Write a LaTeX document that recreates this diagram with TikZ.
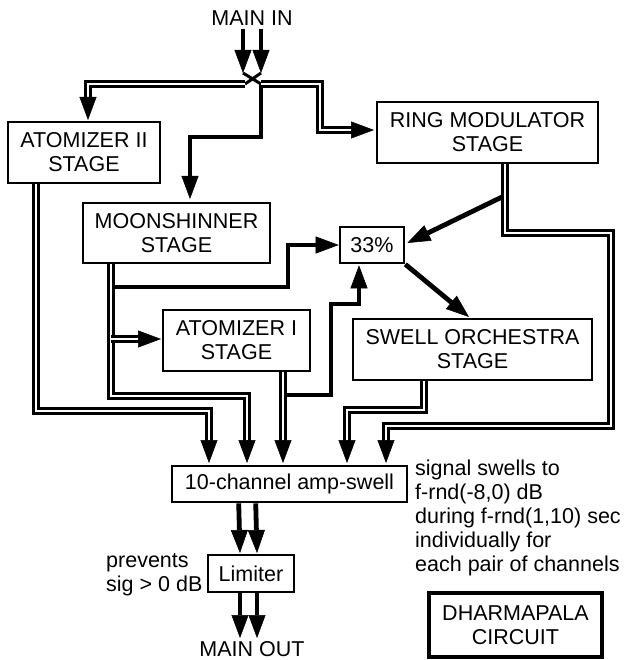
\documentclass[tikz,border=0pt]{standalone}
\usepackage{fontspec}
\setmainfont{Liberation Sans}
\usetikzlibrary{arrows.meta,calc}
\begin{document}
\begin{tikzpicture}[x=1pt,y=-1pt,
  font=\fontsize{21.5}{24}\selectfont,
  box/.style={draw,line width=2.6pt,inner sep=0pt,align=center},
  dbl/.style={line width=3pt,double=white,double distance=2pt,line join=miter},
  thk/.style={line width=4.8pt,line join=miter},
  arrowhd/.style={-{Triangle[length=23pt,width=17pt,line width=0.5pt]}},
  thkarr/.style={thk,arrowhd},
  headonly/.style={line width=0.5pt,arrowhd},
  cross/.style={line width=3pt}]
\useasboundingbox (0,0) rectangle (629,660);

% nodes
\node (mainin) at (252,18) {MAIN IN};
\node[box,minimum width=152pt,minimum height=61pt] (a2) at (84,152.5) {ATOMIZER II\\STAGE};
\node[box,minimum width=221pt,minimum height=61pt] (ring) at (487.5,132.5) {RING MODULATOR\\STAGE};
\node[box,minimum width=187pt,minimum height=60pt] (moon) at (176.5,233) {MOONSHINNER\\STAGE};
\node[box,minimum width=64pt,minimum height=36pt] (pct) at (372,245) {33\%};
\node[box,minimum width=147pt,minimum height=61pt] (a1) at (236.5,340.5) {ATOMIZER I\\STAGE};
\node[box,minimum width=239pt,minimum height=61pt] (swell) at (472.5,349.5) {SWELL ORCHESTRA\\STAGE};
\node[box,minimum width=235pt,minimum height=36pt] (amp) at (289.5,484) {10-channel amp-swell};
\node[box,minimum width=86pt,minimum height=37pt] (lim) at (251,573.5) {Limiter};
\node[box,line width=4pt,minimum width=173pt,minimum height=64pt] (dh) at (515.5,625) {DHARMAPALA\\CIRCUIT};
\node[inner sep=0pt] (mainout) at (252,649) {MAIN OUT};
\node[anchor=west,align=left,inner sep=0pt] (note) at (415,517.5) {signal swells to\\f-rnd(-8,0) dB\\during f-rnd(1,10) sec\\individually for\\each pair of channels};
\node[anchor=west,align=left,inner sep=0pt] (prev) at (106,575) {prevents\\sig > 0 dB};

% coordinates
\coordinate (xL) at (243,73);
\coordinate (xR) at (261,73);
\coordinate (cl) at (245,84);
\coordinate (cr) at (261,84);
\coordinate (t1) at (88,120);
\coordinate (t2) at (374,130);
\coordinate (tm) at (161,339);
\coordinate (ia) at (209,463);
\coordinate (ib) at (247,463);
\coordinate (ic) at (283,463);
\coordinate (id) at (347,463);
\coordinate (ie) at (386,463);

% main in
\draw[thkarr] (xL |- mainin.south) -- (xL);
\draw[thkarr] (xR |- mainin.south) -- (xR);
\draw[cross] (xL) -- (cr);
\draw[cross] (xR) -- (cl);

% single thick connectors
\draw[thkarr] (cr) -- (261,137) -| (190,199);
\draw[thkarr] (115,287) -- (288,287) |- (pct.west);
\draw[thkarr] (285,395) -- (331,395) -- (331,304) -- (359,304) -- ($(pct.south)+(-13,1)$);
\draw[thkarr] (502,197) -- ($(pct.east)+(2,-2)$);
\draw[thkarr] (pct.south east) -- (469,317);

% double (stereo) connectors
\draw[dbl] (cl) -| ($(t1)+(0,-20)$);
\draw[headonly] ($(t1)+(0,-23)$) -- (t1);
\draw[dbl] (cr) -- (320,84) |- ($(t2)+(-20,0)$);
\draw[headonly] ($(t2)+(-23,0)$) -- (t2);

\draw[dbl] (36,184.2) |- (209,411) -- ($(ia)+(0,-20)$);
\draw[headonly] ($(ia)+(0,-23)$) -- (ia);
\draw[dbl] (111,264.2) -- (111,396) -| ($(ib)+(0,-20)$);
\draw[headonly] ($(ib)+(0,-23)$) -- (ib);
\draw[dbl] (111,339) -- ($(tm)+(-20,0)$);
\draw[headonly] ($(tm)+(-23,0)$) -- (tm);
\draw[dbl] (283,372.2) -- ($(ic)+(0,-20)$);
\draw[headonly] ($(ic)+(0,-23)$) -- (ic);
\draw[dbl] (424,381.2) -- (424,410) -| ($(id)+(0,-20)$);
\draw[headonly] ($(id)+(0,-23)$) -- (id);
\draw[dbl] (505,164.2) -- (505,233) -- (611,233) -- (611,426) -| ($(ie)+(0,-20)$);
\draw[headonly] ($(ie)+(0,-23)$) -- (ie);

% amp -> limiter -> out
\draw[thkarr] ($(amp.south west)+(68,0)$) -- (240,553);
\draw[thkarr] ($(amp.south west)+(85,0)$) -- (257,553);
\draw[thkarr] (240,592) -- (240,638);
\draw[thkarr] (257,592) -- (257,638);
\end{tikzpicture}
\end{document}
